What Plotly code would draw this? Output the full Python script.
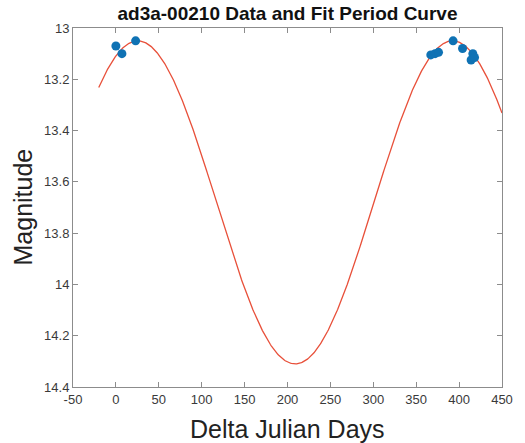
import numpy as np
import plotly.graph_objects as go

# Observed magnitudes
obs_days = [0, 7, 23, 367, 372, 376, 393, 404, 414, 416, 418]
obs_mag = [13.07, 13.10, 13.05, 13.105, 13.10, 13.095, 13.05, 13.08, 13.125, 13.10, 13.115]

# Fitted period curve: mag = mean + amp * cos(2*pi*(t - t_faint)/period)
fit_mean = 13.68
fit_amp = 0.63
fit_period = 367.0
fit_t_faint = 209.0
fit_start, fit_end = -20, 450

x_ticks = [-50, 0, 50, 100, 150, 200, 250, 300, 350, 400, 450]
x_tick_text = ["-50", "0", "50", "100", "150", "200", "250", "300", "350", "400", "450"]
y_ticks = [13, 13.2, 13.4, 13.6, 13.8, 14, 14.2, 14.4]
y_tick_text = ["13", "13.2", "13.4", "13.6", "13.8", "14", "14.2", "14.4"]

t = np.linspace(fit_start, fit_end, 600)
fit_mag = fit_mean + fit_amp * np.cos(2 * np.pi * (t - fit_t_faint) / fit_period)

fig = go.Figure()
fig.add_trace(go.Scatter(
    x=t, y=fit_mag, mode="lines",
    line=dict(color="#e8503a", width=1.3),
    hoverinfo="skip",
))
fig.add_trace(go.Scatter(
    x=obs_days, y=obs_mag, mode="markers",
    marker=dict(color="#0f72b4", size=9, line=dict(width=0)),
))

font_family = "Liberation Sans, Arial, sans-serif"
axis_common = dict(
    showgrid=False, zeroline=False,
    showline=True, linecolor="#8c8c8c", linewidth=1, mirror="ticks",
    ticks="inside", ticklen=5, tickcolor="#8c8c8c", tickwidth=1,
    tickfont=dict(family=font_family, size=13, color="#3a3a3a"),
)

fig.update_layout(
    width=525, height=443,
    margin=dict(l=73, r=12, t=28, b=56),
    paper_bgcolor="white", plot_bgcolor="white",
    showlegend=False,
    title=dict(
        text="<b>ad3a-00210 Data and Fit Period Curve</b>",
        font=dict(family=font_family, size=19, color="#111111"),
        x=0.5, xref="paper", xanchor="center",
        y=1 - 13 / 443, yref="container", yanchor="middle",
    ),
    xaxis=dict(range=[-50, 450], tickvals=x_ticks, ticktext=x_tick_text, **axis_common),
    yaxis=dict(range=[14.4, 13], tickvals=y_ticks, ticktext=y_tick_text, **axis_common),
    annotations=[
        dict(text="Delta Julian Days", xref="paper", yref="paper", x=0.5, y=0,
             xanchor="center", yanchor="middle", yshift=-42, showarrow=False,
             font=dict(family=font_family, size=25, color="#222222")),
        dict(text="Magnitude", xref="paper", yref="paper", x=0, y=0.5,
             xanchor="center", yanchor="middle", xshift=-51, textangle=-90,
             showarrow=False,
             font=dict(family=font_family, size=25, color="#222222")),
    ],
)

fig.write_html("out.html")
